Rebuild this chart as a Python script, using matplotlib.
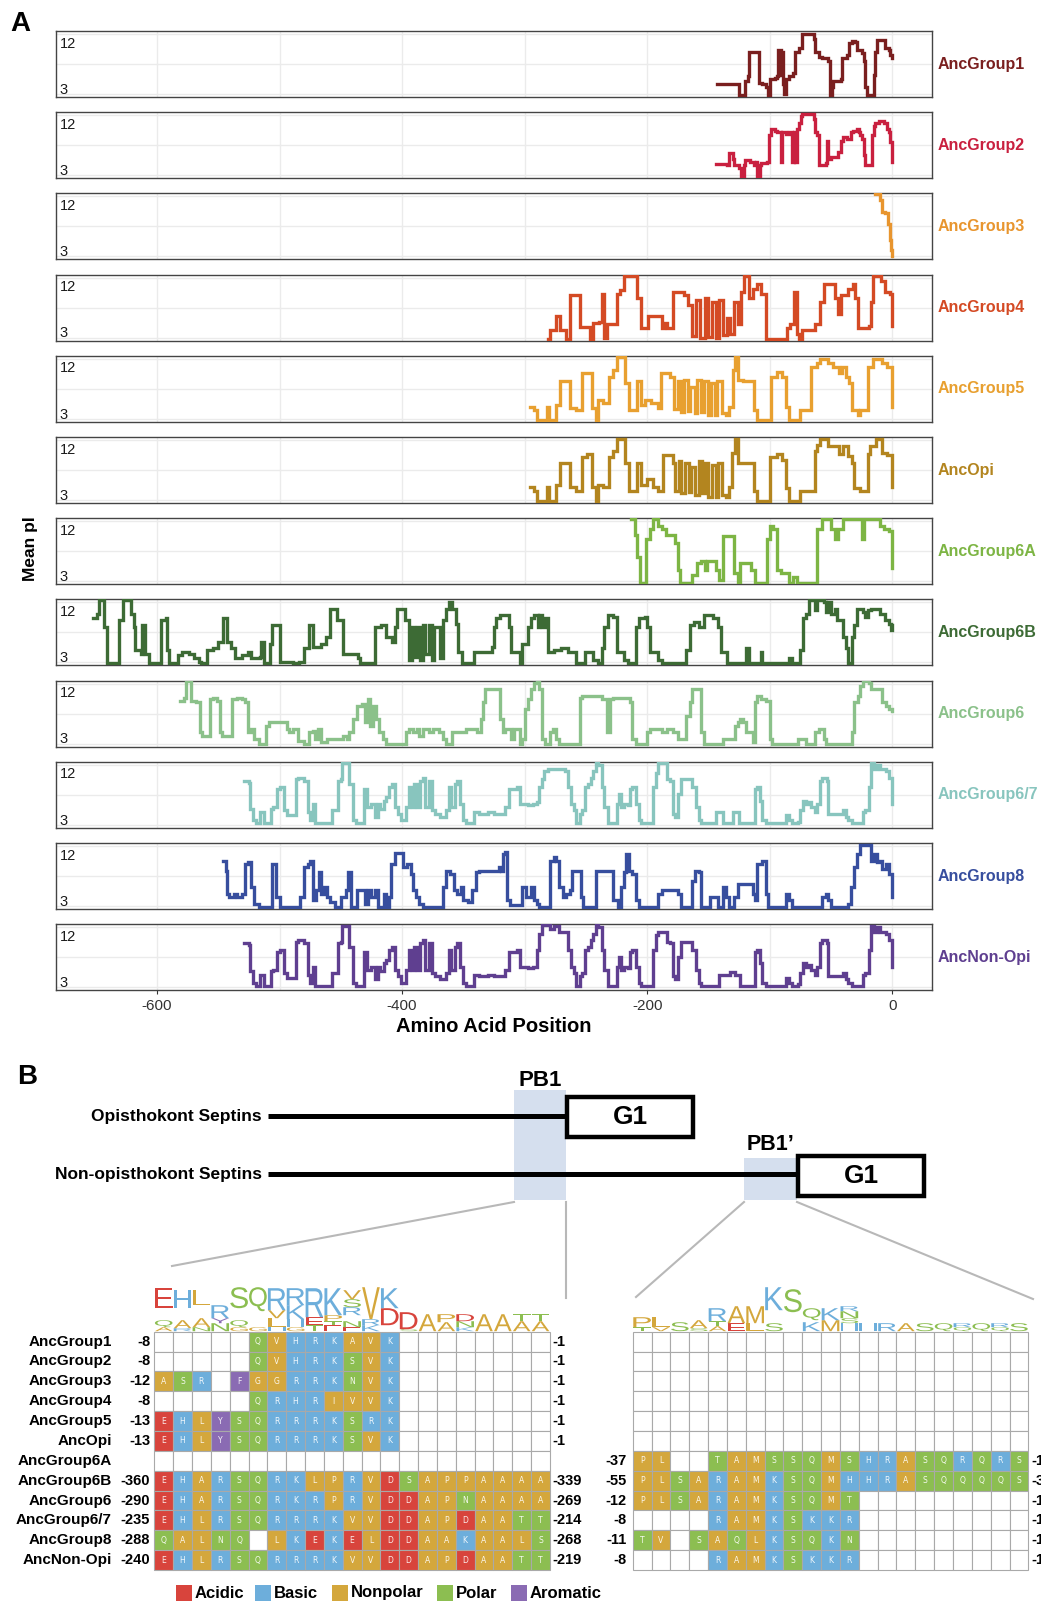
import numpy as np
import matplotlib
matplotlib.use('Agg')
import matplotlib.pyplot as plt
from matplotlib.patches import Rectangle, PathPatch
from matplotlib.textpath import TextPath
from matplotlib.font_manager import FontProperties
from matplotlib.transforms import Affine2D

plt.rcParams['font.family'] = ['Liberation Sans', 'DejaVu Sans']
plt.rcParams['axes.unicode_minus'] = False

# ---------------- panel A: sliding-window mean pI, (position, pI) steps ----------------
series_names = ['AncGroup1', 'AncGroup2', 'AncGroup3', 'AncGroup4', 'AncGroup5', 'AncOpi',
                'AncGroup6A', 'AncGroup6B', 'AncGroup6', 'AncGroup6/7', 'AncGroup8', 'AncNon-Opi']
series_colors = ['#7A1F1F', '#C9203F', '#E8952E', '#D44A24', '#E8A030', '#B3851F',
                 '#7DB544', '#3D6B35', '#8BC18A', '#88C5BE', '#374E9E', '#5F3F90']

grp1 = [(-143, 4.55), (-128, 4.45), (-125, 2.9), (-120, 4.95), (-118, 5.7), (-117, 9.35), (-110, 9.35),
        (-109, 4.7), (-106, 4.45), (-103, 4.0), (-101, 2.9), (-100, 5.2), (-96, 5.4), (-94, 5.7), (-93, 9.6),
        (-91, 5.9), (-90, 9.35), (-89, 4.45), (-88, 3.0), (-87, 5.2), (-84, 5.7), (-81, 6.2), (-79, 9.35),
        (-76, 9.85), (-74, 12.05), (-65, 12.05), (-64, 11.3), (-63, 9.35), (-60, 8.6), (-57, 8.4), (-52, 7.9),
        (-51, 2.9), (-49, 4.0), (-48, 4.95), (-42, 5.2), (-41, 8.4), (-37, 8.9), (-35.5, 10.6), (-33, 10.95),
        (-30, 10.85), (-29, 9.6), (-25, 9.1), (-23, 7.9), (-22, 4.0), (-20.5, 2.9), (-16, 2.9), (-15, 5.9),
        (-14, 9.35), (-12, 11.1), (-7, 11.1), (-5.6, 9.85), (-2.5, 9.6), (-1.5, 8.9), (0, 8.4)]

grp2 = [(-143.5, 4.66), (-134.6, 4.56), (-133, 6.3), (-130, 5.5), (-129, 4.56), (-125, 4.07), (-123.7, 2.85),
        (-121, 4.56), (-120, 5.3), (-116, 5.05), (-113, 4.56), (-111.5, 5.05), (-110, 2.85), (-108, 4.56),
        (-107, 4.8), (-102, 5.05), (-100.7, 9.0), (-99, 9.95), (-96, 9.7), (-94, 9.46), (-91, 5.05), (-90, 9.46),
        (-87, 9.2), (-84, 9.46), (-82, 5.05), (-80, 9.46), (-79.5, 5.05), (-78, 9.95), (-76, 10.9), (-74.5, 11.9),
        (-73.5, 12.15), (-65, 12.15), (-64, 11.4), (-62.6, 9.46), (-61, 9.0), (-60, 4.56), (-54, 4.8), (-53, 8.2),
        (-52, 5.5), (-50, 5.8), (-44, 6.5), (-42, 8.2), (-40, 8.7), (-37, 8.5), (-34, 9.46), (-32, 9.7),
        (-29, 9.95), (-27, 9.46), (-26, 9.0), (-24.6, 8.5), (-23, 6.0), (-22, 4.56), (-18, 4.56), (-16.4, 9.0),
        (-15, 10.4), (-14, 10.9), (-11, 11.2), (-7, 10.9), (-4, 9.95), (-2.5, 9.46), (-1.5, 8.0), (0, 5.05)]

grp3 = [(-14.3, 12.4), (-9.7, 11.4), (-8.3, 9.7), (-5.6, 9.5), (-3.4, 7.8), (-2, 5.5), (-0.8, 4.0), (0, 3.1)]

grp4 = [(-281, 2.8), (-279, 4.2), (-274, 6.2), (-271, 4.2), (-266, 2.8), (-263, 9.4), (-255, 4.6), (-247, 2.8),
        (-244, 5.2), (-239, 5.4), (-237, 9.6), (-235, 3.0), (-233, 5.0), (-225, 9.6), (-222, 10.1), (-219, 12.2),
        (-208, 8.9), (-205, 4.4), (-199, 6.2), (-188, 4.5), (-186, 5.2), (-184, 4.4), (-179, 9.9), (-170, 9.4),
        (-167, 7.9), (-163, 3.3), (-160, 8.7), (-157, 3.0), (-153, 8.9), (-150, 3.1), (-147, 8.4), (-144, 3.0),
        (-141, 8.7), (-138, 3.4), (-135, 6.0), (-132, 3.5), (-129, 8.4), (-126, 5.0), (-123, 9.9), (-121, 12.2),
        (-117, 8.9), (-114, 10.3), (-110, 11.1), (-107, 9.6), (-103, 2.8), (-86, 4.5), (-83, 5.0), (-80, 9.9),
        (-78, 3.5), (-76, 2.8), (-74, 4.2), (-63, 5.0), (-59, 8.4), (-56, 11.1), (-47, 9.0), (-44, 6.5),
        (-42, 9.4), (-38, 9.4), (-36, 10.3), (-32, 11.1), (-30, 8.9), (-28, 4.5), (-19, 4.7), (-17, 8.4),
        (-16, 12.2), (-9, 11.5), (-6, 9.9), (-2, 9.6), (0, 4.7)]

grp5 = [(-296, 4.8), (-292, 4.3), (-290, 2.85), (-282, 4.8), (-280, 2.85), (-274, 5.0), (-271, 8.6), (-263, 4.6),
        (-258, 4.3), (-253, 9.8), (-245, 4.6), (-242, 2.85), (-240, 5.8), (-236, 5.3), (-231, 9.3), (-228, 10.3),
        (-225, 12.3), (-218, 8.3), (-215, 4.3), (-208, 8.6), (-205, 5.0), (-202, 5.8), (-197, 5.3), (-191, 4.6),
        (-189, 9.8), (-181, 9.3), (-178, 4.5), (-175, 8.6), (-172, 4.0), (-170, 8.8), (-167, 4.2), (-165, 7.8),
        (-161, 3.9), (-159, 8.8), (-156, 4.0), (-154, 8.6), (-150, 3.5), (-148, 8.3), (-145, 3.6), (-143, 8.6),
        (-139, 3.8), (-136, 3.6), (-133, 4.8), (-130, 10.3), (-128, 12.3), (-126, 8.8), (-122, 8.6), (-117, 8.6),
        (-113, 4.3), (-110, 2.85), (-99, 9.3), (-94, 10.0), (-90, 9.3), (-87, 4.8), (-84, 2.85), (-75, 4.3),
        (-66, 10.8), (-61, 11.3), (-59, 12.0), (-52, 11.3), (-48, 10.8), (-43, 9.8), (-41, 10.8), (-38, 9.3),
        (-35, 8.3), (-33, 4.3), (-28, 3.5), (-26, 4.3), (-20, 10.8), (-16, 12.0), (-8, 11.3), (-4, 10.8), (0, 4.8)]

anc_opi = [(-296, 4.9), (-292, 4.4), (-290, 2.9), (-282, 4.9), (-280, 2.9), (-274, 5.3), (-271, 8.5), (-263, 4.9),
           (-258, 4.4), (-253, 9.4), (-249, 9.9), (-245, 4.9), (-242, 2.9), (-240, 5.3), (-236, 4.9), (-231, 9.4),
           (-228, 10.4), (-225, 12.1), (-218, 8.5), (-215, 4.4), (-208, 8.5), (-205, 5.3), (-200, 6.1), (-195, 5.0),
           (-191, 4.4), (-187, 9.7), (-181, 9.7), (-179, 8.5), (-177, 4.4), (-174, 8.8), (-172, 4.0), (-169, 8.6),
           (-166, 4.2), (-164, 8.0), (-161, 3.8), (-158, 8.8), (-155, 4.0), (-153, 8.5), (-150, 3.4), (-147, 8.2),
           (-144, 3.5), (-142, 8.5), (-139, 3.8), (-136, 3.5), (-133, 5.0), (-131, 10.0), (-128, 12.1), (-126, 8.5),
           (-122, 8.5), (-117, 8.5), (-113, 4.4), (-110, 2.9), (-100, 9.4), (-94, 9.9), (-90, 9.0), (-87, 4.8),
           (-84, 2.9), (-75, 4.4), (-63, 10.4), (-61, 11.3), (-59, 12.1), (-52, 11.1), (-46, 11.1), (-43, 9.9),
           (-40, 11.1), (-36, 9.6), (-33, 8.5), (-31, 4.8), (-26, 4.4), (-20, 9.9), (-18, 11.1), (-13, 12.1),
           (-8, 10.0), (-4, 9.7), (0, 4.9)]

grp6a = [(-213, 12.4), (-210, 10.0), (-208, 6.7), (-206, 2.7), (-201, 9.3), (-198, 10.8), (-195, 12.4), (-191, 11.3),
         (-188, 10.8), (-185, 10.0), (-177, 8.8), (-175, 4.7), (-173, 2.7), (-163, 4.0), (-159, 5.7), (-156, 6.0),
         (-153, 4.7), (-151, 6.0), (-146, 6.0), (-144, 4.7), (-141, 3.2), (-138, 9.8), (-131, 9.8), (-129, 4.2),
         (-126, 2.7), (-124, 5.7), (-119, 5.7), (-115, 4.7), (-112, 2.7), (-102, 9.3), (-100, 11.3), (-97, 10.8),
         (-94, 4.7), (-91, 4.2), (-84, 2.7), (-81, 3.6), (-78, 2.7), (-61, 10.8), (-57, 12.4), (-50, 10.8),
         (-47, 9.3), (-44, 10.8), (-40, 12.4), (-25, 9.3), (-23, 12.4), (-19, 12.4), (-10, 11.3), (-7, 10.8),
         (-3, 10.5), (0, 5.0)]

grp6b = [(-652, 9.6), (-649, 10.3), (-647, 12.3), (-643, 8.3), (-641, 2.85), (-631, 9.3), (-628, 12.3), (-621, 10.3),
         (-619, 8.3), (-618, 4.8), (-613, 4.3), (-612, 8.6), (-610, 4.3), (-607, 2.85), (-597, 9.3), (-593, 9.6),
         (-592, 4.8), (-590, 2.85), (-583, 4.1), (-580, 4.6), (-574, 4.3), (-570, 3.6), (-566, 3.1), (-564, 2.85),
         (-559, 4.8), (-554, 5.1), (-550, 6.1), (-546, 9.6), (-543, 6.1), (-540, 5.1), (-536, 3.6), (-531, 4.1),
         (-526, 4.6), (-523, 3.6), (-516, 3.8), (-515, 6.1), (-513, 2.85), (-508, 5.8), (-506, 8.6), (-500, 3.1),
         (-489, 2.85), (-484, 3.1), (-480, 5.1), (-476, 8.6), (-473, 5.3), (-466, 5.8), (-462, 6.8), (-459, 11.0),
         (-453, 9.3), (-448, 4.3), (-436, 3.6), (-434, 2.85), (-427, 2.85), (-422, 8.3), (-417, 8.6), (-413, 6.8),
         (-408, 6.1), (-406, 8.3), (-404, 11.0), (-398, 9.3), (-394, 3.3), (-392, 8.3), (-390, 3.8), (-388, 8.3),
         (-385, 3.3), (-383, 8.6), (-381, 4.3), (-378, 8.6), (-376, 3.3), (-374, 8.3), (-369, 3.6), (-367, 9.3),
         (-364, 11.0), (-362, 12.05), (-359, 11.0), (-356, 8.8), (-354, 4.6), (-351, 2.85), (-341, 4.6),
         (-327, 5.3), (-325, 8.3), (-323, 9.6), (-320, 10.1), (-313, 8.3), (-311, 4.6), (-304, 2.85), (-302, 5.8),
         (-297, 8.3), (-295, 9.6), (-292, 10.1), (-289, 8.3), (-288, 10.1), (-286, 8.3), (-283, 9.6), (-281, 4.6),
         (-276, 4.8), (-270, 5.1), (-265, 4.6), (-258, 2.85), (-251, 4.6), (-244, 3.3), (-240, 2.85), (-237, 5.1),
         (-235, 8.3), (-232, 10.1), (-228, 9.8), (-225, 4.6), (-219, 3.3), (-216, 2.85), (-209, 8.3), (-207, 9.6),
         (-202, 9.8), (-200, 8.3), (-198, 4.6), (-191, 3.3), (-188, 2.85), (-168, 4.8), (-165, 8.6), (-162, 9.1),
         (-158, 8.3), (-154, 10.1), (-149, 10.1), (-146, 9.6), (-142, 8.3), (-140, 4.6), (-135, 2.85), (-119, 5.1),
         (-117, 2.85), (-107, 4.6), (-106, 2.85), (-84, 3.6), (-82, 2.85), (-75, 4.8), (-73, 9.6), (-70, 10.3),
         (-68, 12.3), (-63, 10.8), (-61, 12.3), (-56, 12.05), (-54, 10.55), (-52, 12.05), (-50, 10.3), (-47, 11.0),
         (-45, 9.3), (-40, 6.8), (-38, 5.1), (-36, 2.85), (-33, 6.8), (-31, 8.6), (-29, 11.0), (-24, 10.5),
         (-22, 9.8), (-20, 10.8), (-17, 11.0), (-10, 10.3), (-6, 9.3), (-3, 8.8), (-1, 7.8), (0, 8.6)]

grp6 = [(-581, 9.4), (-578, 9.9), (-576, 12.4), (-572, 9.4), (-568, 9.2), (-565, 4.7), (-563, 4.2), (-557, 9.7),
        (-554, 9.9), (-551, 9.4), (-549, 4.7), (-547, 4.2), (-539, 9.7), (-535, 9.9), (-531, 9.7), (-528, 9.2),
        (-526, 4.7), (-523, 5.2), (-521, 3.7), (-517, 2.95), (-511, 5.7), (-509, 6.2), (-496, 6.2), (-494, 5.2),
        (-492, 4.7), (-489, 5.2), (-485, 3.45), (-480, 2.95), (-476, 4.7), (-473, 4.95), (-471, 3.7), (-469, 5.2),
        (-466, 3.2), (-461, 3.7), (-452, 3.7), (-448, 4.2), (-445, 3.7), (-443, 4.7), (-440, 6.7), (-437, 8.7),
        (-433, 8.9), (-430, 6.2), (-428, 9.7), (-426, 5.7), (-424, 8.7), (-421, 6.7), (-419, 4.7), (-416, 3.7),
        (-413, 2.95), (-397, 4.7), (-394, 5.2), (-391, 4.7), (-388, 5.2), (-386, 4.2), (-383, 5.2), (-378, 4.7),
        (-375, 5.2), (-370, 4.7), (-367, 3.7), (-364, 2.95), (-359, 4.7), (-353, 4.7), (-348, 5.2), (-341, 5.2),
        (-339, 4.7), (-336, 6.7), (-334, 9.2), (-332, 11.15), (-322, 11.15), (-320, 6.7), (-318, 4.7), (-316, 5.2),
        (-311, 3.7), (-309, 5.2), (-306, 5.2), (-304, 2.95), (-302, 3.7), (-300, 8.2), (-297, 9.7), (-295, 11.15),
        (-292, 12.15), (-290, 12.4), (-288, 11.15), (-286, 3.7), (-283, 2.95), (-279, 4.7), (-277, 5.2),
        (-274, 3.7), (-272, 2.95), (-255, 9.9), (-253, 10.15), (-239, 10.15), (-237, 9.7), (-233, 4.7), (-230, 9.7),
        (-228, 9.9), (-216, 9.9), (-214, 9.2), (-212, 3.7), (-209, 2.95), (-202, 2.95), (-200, 4.7), (-198, 5.2),
        (-191, 5.2), (-188, 4.7), (-184, 5.2), (-179, 4.7), (-175, 3.7), (-170, 3.7), (-168, 7.2), (-165, 9.2),
        (-163, 11.15), (-158, 11.15), (-156, 4.7), (-154, 2.95), (-138, 3.7), (-133, 3.7), (-128, 5.7), (-126, 6.2),
        (-124, 6.7), (-122, 6.2), (-119, 4.7), (-114, 3.2), (-112, 9.2), (-110, 10.15), (-107, 9.7), (-103, 9.4),
        (-100, 3.7), (-98, 2.95), (-79, 2.95), (-77, 3.7), (-72, 3.7), (-70, 2.95), (-63, 4.7), (-60, 5.2),
        (-58, 5.2), (-56, 3.7), (-54, 2.95), (-36, 2.95), (-33, 4.7), (-31, 9.2), (-28, 10.15), (-26, 11.6),
        (-24, 12.4), (-19, 12.15), (-17, 11.15), (-10, 11.15), (-8, 9.2), (-5, 8.7), (-3, 8.2), (0, 7.9)]

grp67 = [(-529, 9.6), (-525, 9.3), (-524, 5.4), (-522, 3.7), (-519, 3.2), (-516, 4.9), (-513, 3.2), (-507, 5.4),
         (-505, 5.6), (-502, 8.3), (-500, 8.6), (-496, 5.15), (-494, 4.4), (-489, 4.4), (-487, 9.8), (-485, 10.05),
         (-480, 9.6), (-477, 4.9), (-475, 3.7), (-473, 6.1), (-471, 3.2), (-461, 3.2), (-457, 5.15), (-452, 9.6),
         (-450, 9.8), (-449, 12.25), (-445, 12.25), (-443, 9.1), (-440, 3.7), (-438, 3.2), (-433, 3.2), (-431, 8.3),
         (-429, 5.6), (-425, 6.1), (-422, 4.2), (-420, 6.1), (-418, 5.4), (-415, 6.6), (-413, 7.1), (-411, 8.6),
         (-408, 9.1), (-406, 5.6), (-403, 4.65), (-401, 3.7), (-398, 3.7), (-397, 5.6), (-394, 8.6), (-392, 5.6),
         (-390, 9.1), (-388, 5.6), (-385, 9.6), (-383, 10.05), (-381, 5.6), (-378, 9.6), (-376, 5.15), (-373, 4.65),
         (-369, 4.2), (-364, 5.15), (-362, 8.6), (-360, 5.6), (-357, 9.1), (-355, 9.6), (-353, 6.1), (-350, 3.7),
         (-348, 3.2), (-341, 4.9), (-337, 4.65), (-330, 4.9), (-325, 4.65), (-318, 4.65), (-316, 5.6), (-313, 8.3),
         (-306, 8.6), (-304, 6.1), (-297, 5.9), (-293, 6.1), (-290, 6.4), (-288, 8.6), (-286, 9.8), (-284, 11.0),
         (-281, 11.3), (-269, 11.3), (-267, 11.0), (-265, 8.6), (-262, 6.1), (-260, 5.15), (-258, 3.2), (-255, 4.65),
         (-253, 5.15), (-251, 8.6), (-248, 9.1), (-246, 10.05), (-244, 11.0), (-242, 12.25), (-240, 12.0),
         (-237, 8.6), (-235, 5.6), (-232, 3.2), (-228, 3.2), (-225, 6.1), (-223, 7.6), (-221, 5.6), (-219, 6.1),
         (-216, 5.9), (-214, 8.3), (-212, 8.6), (-209, 6.1), (-207, 3.7), (-205, 3.2), (-198, 3.2), (-195, 8.6),
         (-193, 10.8), (-191, 12.25), (-186, 12.25), (-184, 9.8), (-181, 9.56), (-179, 4.65), (-177, 4.2),
         (-175, 7.6), (-172, 9.8), (-165, 9.8), (-163, 8.6), (-160, 5.6), (-158, 3.7), (-156, 3.2), (-147, 3.2),
         (-144, 4.9), (-140, 4.9), (-138, 3.2), (-130, 4.9), (-125, 3.2), (-113, 3.2), (-112, 8.3), (-110, 8.6),
         (-108, 6.6), (-106, 3.7), (-103, 3.2), (-89, 3.2), (-87, 4.4), (-84, 3.7), (-82, 3.2), (-77, 3.45),
         (-75, 5.15), (-73, 6.6), (-70, 6.1), (-68, 6.4), (-66, 5.6), (-63, 4.9), (-61, 6.1), (-59, 9.56),
         (-57, 10.05), (-53, 9.56), (-52, 4.65), (-45, 4.65), (-40, 5.15), (-38, 4.2), (-36, 3.7), (-33, 3.2),
         (-26, 3.2), (-24, 4.9), (-22, 5.15), (-19, 8.6), (-17, 12.25), (-15, 11.3), (-12.5, 12.0), (-10, 11.3),
         (-5, 11.0), (-3, 10.05), (0, 6.1)]

grp8 = [(-546, 9.8), (-544, 8.3), (-543, 4.8), (-541, 4.35), (-537, 4.8), (-535, 4.35), (-531, 4.8), (-528, 9.3),
        (-526, 9.55), (-523, 5.85), (-521, 3.35), (-517, 2.85), (-506, 9.3), (-503, 4.35), (-500, 2.85),
        (-483, 4.35), (-480, 8.8), (-477, 9.3), (-475, 9.8), (-473, 3.85), (-470, 5.35), (-468, 8.05), (-466, 4.8),
        (-464, 5.85), (-461, 4.35), (-459, 3.6), (-455, 2.85), (-450, 4.35), (-446, 5.35), (-444, 8.05),
        (-442, 2.85), (-437, 5.35), (-433, 5.35), (-430, 3.35), (-428, 5.35), (-425, 4.35), (-422, 5.35),
        (-420, 2.85), (-415, 4.8), (-413, 2.85), (-411, 4.35), (-409, 9.3), (-406, 10.9), (-401, 10.9),
        (-399, 8.8), (-396, 9.3), (-393, 7.8), (-391, 5.35), (-389, 4.35), (-386, 3.35), (-383, 2.85),
        (-367, 5.85), (-364, 8.3), (-361, 7.8), (-358, 5.35), (-355, 4.8), (-352, 5.85), (-350, 3.85), (-346, 3.6),
        (-343, 5.35), (-340, 8.05), (-337, 8.3), (-323, 8.3), (-321, 8.8), (-319, 8.3), (-318, 10.8),
        (-316, 11.05), (-314, 3.85), (-312, 3.1), (-304, 3.1), (-302, 5.85), (-299, 4.35), (-295, 5.85),
        (-292, 3.85), (-290, 3.35), (-288, 2.85), (-281, 2.85), (-279, 9.8), (-276, 10.3), (-274, 9.8),
        (-272, 5.85), (-269, 4.35), (-266, 4.8), (-263, 5.35), (-261, 8.3), (-256, 8.3), (-254, 4.35),
        (-252, 2.85), (-244, 2.85), (-242, 8.3), (-230, 8.3), (-228, 3.85), (-224, 2.85), (-221, 5.85),
        (-219, 8.05), (-217, 10.8), (-215, 8.3), (-212, 7.8), (-209, 3.85), (-207, 2.85), (-193, 2.85),
        (-191, 4.8), (-188, 5.35), (-177, 5.35), (-175, 4.8), (-172, 2.85), (-165, 2.85), (-163, 6.8),
        (-161, 8.3), (-158, 8.05), (-156, 2.85), (-150, 2.85), (-149, 4.35), (-143, 4.35), (-142, 2.85),
        (-138, 5.85), (-136, 4.35), (-133, 2.85), (-129, 4.35), (-126, 6.3), (-117, 6.3), (-114, 4.8),
        (-112, 3.85), (-110, 9.3), (-106, 9.8), (-103, 4.8), (-101, 2.85), (-89, 2.85), (-87, 4.8), (-84, 3.85),
        (-82, 2.85), (-59, 2.85), (-57, 4.35), (-54, 4.8), (-52, 3.85), (-50, 2.85), (-38, 2.85), (-36, 3.35),
        (-34, 5.85), (-31, 8.8), (-29, 10.8), (-26, 12.2), (-19, 12.2), (-17, 9.8), (-15, 10.8), (-12.5, 9.55),
        (-10, 9.8), (-8, 8.55), (-5, 9.3), (-3, 7.8), (0, 4.35)]

non_opi = [(-529, 9.6), (-525, 9.3), (-524, 5.4), (-522, 3.7), (-519, 3.2), (-516, 4.9), (-513, 3.2), (-507, 5.4),
           (-505, 5.6), (-502, 8.3), (-500, 8.6), (-496, 5.15), (-494, 4.4), (-489, 4.4), (-487, 9.8),
           (-485, 10.05), (-480, 9.6), (-477, 4.9), (-475, 3.7), (-473, 6.1), (-471, 3.2), (-461, 3.2),
           (-457, 5.15), (-452, 9.6), (-450, 9.8), (-449, 12.25), (-445, 12.25), (-443, 9.1), (-440, 3.7),
           (-438, 3.2), (-433, 3.2), (-431, 8.3), (-429, 5.6), (-425, 6.1), (-422, 4.2), (-420, 6.1), (-418, 5.4),
           (-415, 6.6), (-413, 7.1), (-411, 8.6), (-408, 9.1), (-406, 5.6), (-403, 4.65), (-401, 3.7), (-398, 3.7),
           (-397, 5.6), (-394, 8.6), (-392, 5.6), (-390, 9.1), (-388, 5.6), (-385, 9.6), (-383, 10.05), (-381, 5.6),
           (-378, 9.6), (-376, 5.15), (-373, 4.65), (-369, 4.2), (-364, 5.15), (-362, 8.6), (-360, 5.6), (-357, 9.1),
           (-355, 9.6), (-353, 6.1), (-350, 3.7), (-348, 3.2), (-341, 4.9), (-337, 4.65), (-330, 4.9), (-325, 4.65),
           (-318, 4.65), (-316, 5.6), (-313, 8.3), (-306, 8.6), (-304, 6.1), (-297, 5.9), (-293, 6.1), (-290, 8.6),
           (-288, 11.0), (-286, 12.4), (-279, 11.8), (-276, 12.2), (-272, 11.25), (-267, 11.25), (-265, 8.6),
           (-262, 6.1), (-260, 5.15), (-258, 3.2), (-255, 4.65), (-253, 5.15), (-251, 8.6), (-248, 9.1),
           (-246, 10.05), (-244, 11.0), (-242, 12.4), (-240, 12.0), (-237, 8.6), (-235, 5.6), (-232, 3.2),
           (-228, 3.2), (-225, 6.1), (-223, 7.6), (-221, 5.6), (-219, 6.1), (-216, 5.9), (-214, 8.3), (-212, 8.6),
           (-209, 6.1), (-207, 3.7), (-205, 3.2), (-198, 3.2), (-195, 8.6), (-193, 10.8), (-191, 11.3), (-186, 11.3),
           (-184, 9.8), (-181, 9.56), (-179, 4.65), (-177, 4.2), (-175, 7.6), (-172, 9.8), (-165, 9.8), (-163, 8.6),
           (-160, 5.6), (-158, 3.7), (-156, 3.2), (-143, 3.2), (-141, 4.9), (-132, 5.3), (-128, 4.9), (-124, 3.2),
           (-113, 3.2), (-112, 8.3), (-110, 8.6), (-108, 6.6), (-106, 3.7), (-103, 3.2), (-89, 3.2), (-87, 4.4),
           (-84, 3.7), (-82, 3.2), (-77, 3.45), (-75, 5.15), (-73, 6.6), (-70, 6.1), (-68, 6.4), (-66, 5.6),
           (-63, 4.9), (-61, 6.1), (-59, 9.56), (-57, 10.05), (-53, 9.56), (-52, 4.65), (-45, 4.65), (-40, 5.15),
           (-38, 4.2), (-36, 3.7), (-33, 3.2), (-26, 3.2), (-24, 4.9), (-22, 5.15), (-19, 8.6), (-17, 12.25),
           (-15, 11.3), (-12.5, 12.0), (-10, 11.3), (-5, 11.0), (-3, 10.05), (0, 6.1)]

series_steps = [grp1, grp2, grp3, grp4, grp5, anc_opi, grp6a, grp6b, grp6, grp67, grp8, non_opi]
x_ticks = [-600, -400, -200, 0]
y_ticks = [3, 12]

# ---------------- panel B: PB1 / PB1' alignments ----------------
aln_names = series_names
pb1_rows = ['.....QVHRKAVK........', '.....QVHRKSVK........', 'ASR.FGGRRKNVK........',
            '.....QRHRIVVK........', 'EHLYSQRRRKSRK........', 'EHLYSQRRRKSVK........',
            '.....................', 'EHARSQRKLPRVDSAPPAAAA', 'EHARSQRKRPRVDDAPNAAAA',
            'EHLRSQRRRKVVDDAPDAATT', 'QALNQ.LKEKELDDAAKAALS', 'EHLRSQRRRKVVDDAPDAATT']
pb1_start = ['-8', '-8', '-12', '-8', '-13', '-13', '', '-360', '-290', '-235', '-288', '-240']
pb1_end = ['-1', '-1', '-1', '-1', '-1', '-1', '', '-339', '-269', '-214', '-268', '-219']

pb1p_rows = ['.....................'] * 6 + [
    'PL..TAMSSQMSHRASQRQRS', 'PLSARAMKSQMHHRASQQQQS', 'PLSARAMKSQMT.........',
    '....RAMKSKKR.........', 'TV.SAQLKSQKN.........', '....RAMKSKKR.........']
pb1p_start = [''] * 6 + ['-37', '-55', '-12', '-8', '-11', '-8']
pb1p_end = [''] * 6 + ['-19', '-35', '-1', '-1', '-1', '-1']

# logo stacks, bottom to top: (letter, height in px); ' ' = empty space
pb1_logo = [
    [('A', 4), ('Q', 7), (' ', 12), ('E', 20)], [('R', 3), ('A', 8), (' ', 12), ('H', 18)],
    [('N', 4), ('A', 9), (' ', 13), ('L', 15)], [('N', 8), ('Y', 5), ('R', 13)],
    [('G', 4), ('Q', 7), (' ', 12), ('S', 21)], [('G', 4), (' ', 16), ('Q', 24)],
    [('H', 4), ('L', 9), ('V', 8), ('R', 22)], [('G', 4), ('H', 8), ('K', 14), ('R', 17)],
    [('T', 6), ('E', 8), ('R', 29)], [('E', 6), ('T', 4), ('P', 6), ('K', 27)],
    [('E', 4), ('N', 6), (' ', 6), ('R', 8), ('S', 8), ('V', 9)], [('K', 6), ('R', 6), ('V', 32)],
    [(' ', 6), ('D', 17), ('K', 20)], [('S', 2), ('D', 17)], [('A', 17)], [('A', 9), ('P', 8)],
    [('K', 4), ('N', 6), ('D', 7)], [('A', 17)], [('A', 17)], [('A', 10), ('T', 7)], [('A', 10), ('T', 7)]]

pb1p_logo = [
    [('T', 4), ('P', 10)], [('V', 4), ('L', 10)], [('S', 9)], [('S', 3), ('A', 8)],
    [('A', 5), ('T', 5), ('R', 13)], [('E', 8), ('A', 17)], [('L', 8), ('M', 17)],
    [('S', 8), (' ', 13), ('K', 23)], [(' ', 19), ('S', 23)], [('K', 9), (' ', 2), ('Q', 12)],
    [('M', 11), ('K', 12)], [('H', 8), ('S', 5), ('N', 7), ('R', 5)], [('H', 8)], [('R', 8)],
    [('A', 8)], [('S', 8)], [('Q', 8)], [('Q', 4), ('R', 4)], [('Q', 8)], [('Q', 4), ('R', 4)], [('S', 8)]]

residue_class = {}
for aa in 'DE':
    residue_class[aa] = 'Acidic'
for aa in 'RKH':
    residue_class[aa] = 'Basic'
for aa in 'AVLIPMG':
    residue_class[aa] = 'Nonpolar'
for aa in 'STNQC':
    residue_class[aa] = 'Polar'
for aa in 'FYW':
    residue_class[aa] = 'Aromatic'

legend_classes = ['Acidic', 'Basic', 'Nonpolar', 'Polar', 'Aromatic']
class_colors = {'Acidic': '#D8443C', 'Basic': '#6DAEDB', 'Nonpolar': '#D4A73C',
                'Polar': '#8CBE51', 'Aromatic': '#8A6BB3'}

# ---------------- figure ----------------
W, H = 1041, 1604
fig = plt.figure(figsize=(W / 100, H / 100), dpi=100)


def px_axes(left, top, width, height):
    return fig.add_axes([left / W, 1 - (top + height) / H, width / W, height / H])


# overlay for panel labels and the whole of panel B, in pixel units
ov = fig.add_axes([0, 0, 1, 1], zorder=0)
ov.set_xlim(0, W)
ov.set_ylim(H, 0)
ov.axis('off')

# panel A strips
p_left, p_right = 56, 932
strip_top, strip_step, strip_h = 31, 81.2, 66
for i, (name, col, steps) in enumerate(zip(series_names, series_colors, series_steps)):
    ax = px_axes(p_left, strip_top + i * strip_step, p_right - p_left, strip_h)
    ax.set_zorder(2)
    pos = np.array([p for p, v in steps])
    val = np.array([v for p, v in steps])
    ax.plot(pos, val, drawstyle='steps-post', color=col, lw=2.4, solid_joinstyle='miter', zorder=3)
    ax.set_xlim(-682.5, 32.5)
    ax.set_ylim(2.55, 12.45)
    ax.set_xticks(x_ticks)
    ax.set_xticks([-500, -300, -100], minor=True)
    ax.set_yticks(y_ticks)
    ax.set_yticks([7.5], minor=True)
    ax.grid(True, which='both', color='#EBEBEB', lw=1.0, zorder=0)
    ax.set_axisbelow(True)
    ax.tick_params(which='both', left=False, labelleft=False)
    ax.tick_params(axis='x', which='minor', bottom=False)
    for sp in ax.spines.values():
        sp.set_color('#444444')
        sp.set_linewidth(1.0)
    if i == len(series_names) - 1:
        ax.tick_params(axis='x', which='major', length=3, color='#333333', labelsize=11,
                       labelcolor='#333333', pad=3)
        ax.set_xlabel('Amino Acid Position', fontsize=14.5, fontweight='bold', labelpad=3)
    else:
        ax.tick_params(axis='x', which='major', bottom=False, labelbottom=False)
    ax.text(0.004, 0.81, '12', transform=ax.transAxes, ha='left', va='center', fontsize=10.5, color='#1a1a1a')
    ax.text(0.004, 0.11, '3', transform=ax.transAxes, ha='left', va='center', fontsize=10.5, color='#1a1a1a')
    ax.text(1.006, 0.5, name, transform=ax.transAxes, ha='left', va='center', fontsize=11.5,
            fontweight='bold', color=col)

ov.text(10, 31, 'A', fontsize=20, fontweight='bold', va='baseline', ha='left')
ov.text(31, 549, 'Mean pI', fontsize=12.5, fontweight='bold', rotation=90, ha='center', va='center')

# panel B schematic
ov.text(17, 1084, 'B', fontsize=20, fontweight='bold', va='baseline', ha='left')
ov.add_patch(Rectangle((514, 1090), 52, 110, fc='#D5DFEE', ec='none', zorder=2))
ov.add_patch(Rectangle((744, 1158), 53, 42, fc='#D5DFEE', ec='none', zorder=2))
ov.plot([268, 566], [1116, 1116], color='black', lw=3.6, solid_capstyle='butt', zorder=3)
ov.plot([268, 797], [1174, 1174], color='black', lw=3.6, solid_capstyle='butt', zorder=3)
ov.add_patch(Rectangle((567, 1097), 126, 40, fc='white', ec='black', lw=3.2, zorder=4))
ov.add_patch(Rectangle((798, 1156), 126, 40, fc='white', ec='black', lw=3.2, zorder=4))
ov.text(630, 1117, 'G1', fontsize=19, fontweight='bold', ha='center', va='center', zorder=5)
ov.text(861, 1176, 'G1', fontsize=19, fontweight='bold', ha='center', va='center', zorder=5)
ov.text(540, 1086, 'PB1', fontsize=16, fontweight='bold', ha='center', va='baseline')
ov.text(770, 1150, 'PB1\u2019', fontsize=15.5, fontweight='bold', ha='center', va='baseline')
ov.text(262, 1116, 'Opisthokont Septins', fontsize=12.5, fontweight='bold', ha='right', va='center')
ov.text(262, 1174, 'Non-opisthokont Septins', fontsize=12.5, fontweight='bold', ha='right', va='center')
zoom_col = '#B8B8B8'
ov.plot([514, 172], [1202, 1266], color=zoom_col, lw=1.5)
ov.plot([566, 566], [1202, 1298], color=zoom_col, lw=1.5)
ov.plot([744, 636], [1202, 1297], color=zoom_col, lw=1.5)
ov.plot([797, 1033], [1202, 1299], color=zoom_col, lw=1.5)

# alignment grids
cw, rh = 18.84, 19.86
grid_top = 1331.7
logo_font = FontProperties(family='Liberation Sans')


def draw_letter(letter, x, y_bottom, w, h, color):
    tp = TextPath((0, 0), letter, size=1, prop=logo_font)
    bb = tp.get_extents()
    tr = Affine2D().translate(-bb.x0, -bb.y0).scale(w / bb.width, -h / bb.height).translate(x, y_bottom)
    ov.add_patch(PathPatch(tr.transform_path(tp), fc=color, ec='none', lw=0, zorder=5))


def draw_logo(stacks, x0):
    for c, stack in enumerate(stacks):
        y = grid_top - 0.5
        for letter, h in stack:
            if letter != ' ':
                draw_letter(letter, x0 + c * cw + 0.6, y, cw - 1.2, h,
                            class_colors[residue_class[letter]])
            y -= h


def draw_grid(rows, x0):
    for r, row in enumerate(rows):
        for c, aa in enumerate(row):
            x = x0 + c * cw
            y = grid_top + r * rh
            fc = class_colors[residue_class[aa]] if aa != '.' else 'white'
            ov.add_patch(Rectangle((x, y), cw, rh, fc=fc, ec='#A9A9A9', lw=0.8, zorder=3))
            if aa != '.':
                ov.text(x + cw / 2, y + rh / 2, aa, fontsize=5.5, color='white', alpha=0.9,
                        ha='center', va='center', zorder=4, family='DejaVu Sans')


left_x0 = 154.3
right_x0 = 632.7
draw_grid(pb1_rows, left_x0)
draw_grid(pb1p_rows, right_x0)
draw_logo(pb1_logo, left_x0)
draw_logo(pb1p_logo, right_x0)

for r, name in enumerate(aln_names):
    yc = grid_top + (r + 0.5) * rh
    ov.text(112, yc, name, fontsize=11, fontweight='bold', ha='right', va='center')
    ov.text(150, yc, pb1_start[r], fontsize=10.5, fontweight='bold', ha='right', va='center')
    ov.text(552, yc, pb1_end[r], fontsize=10.5, fontweight='bold', ha='left', va='center')
    ov.text(627, yc, pb1p_start[r], fontsize=10.5, fontweight='bold', ha='right', va='center')
    # the reference figure cuts these labels at its right edge
    ov.text(1031, yc, pb1p_end[r], fontsize=10.5, fontweight='bold', ha='left', va='center')

# legend
leg_x = [176, 255, 332, 437, 511]
for x, cls in zip(leg_x, legend_classes):
    ov.add_patch(Rectangle((x, 1585), 16, 16, fc=class_colors[cls], ec='none', zorder=3))
    ov.text(x + 19, 1593, cls, fontsize=12, fontweight='bold', ha='left', va='center')

fig.savefig('out.png', dpi=100)
